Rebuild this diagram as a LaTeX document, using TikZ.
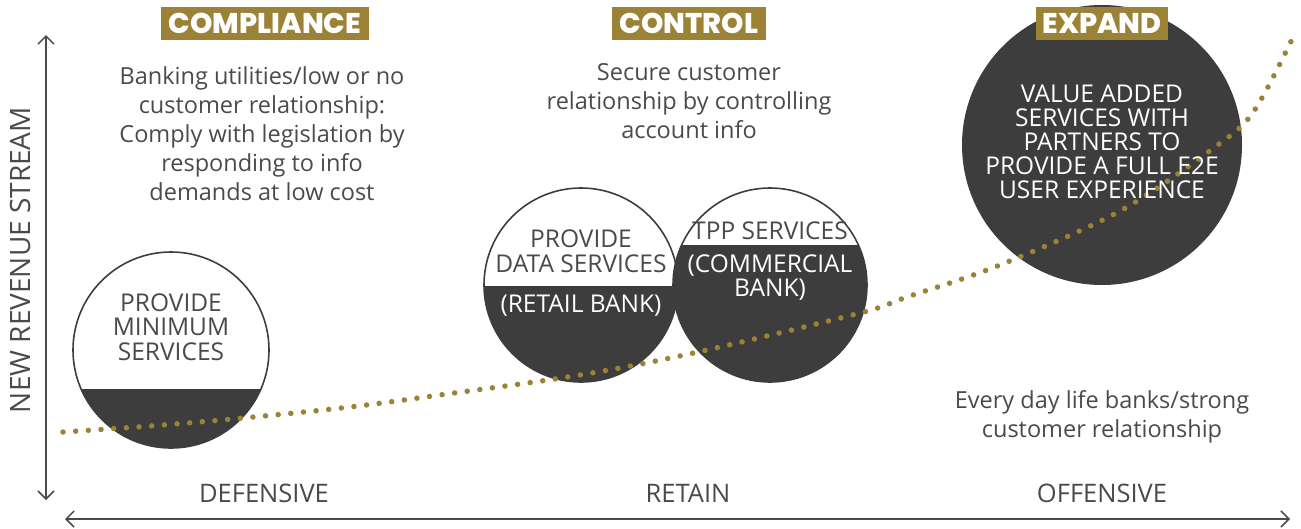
\documentclass[tikz,border=0pt]{standalone}
\usepackage{fontspec}
\setmainfont{Open Sans}
\IfFontExistsTF{Poppins ExtraBold}{\newfontfamily\titlefont{Poppins ExtraBold}\newcommand\tagwt{}}{\newfontfamily\titlefont{Poppins}\newcommand\tagwt{\bfseries}}
\usetikzlibrary{arrows.meta}
\definecolor{gold}{HTML}{9C8236}
\definecolor{darkfill}{HTML}{3D3D3D}
\definecolor{txt}{HTML}{4A4A4A}
\begin{document}
\begin{tikzpicture}[x=1pt,y=-1pt,
  tag/.style={fill=gold,text=white,font=\titlefont\tagwt\fontsize{28.5}{28}\selectfont,minimum height=33pt,inner sep=0pt,anchor=center},
  body/.style={text=txt,align=center,font=\fontsize{23.5}{29}\selectfont,inner sep=0pt},
  axlabel/.style={text=txt,align=center,font=\fontsize{25.5}{26}\selectfont,inner sep=0pt},
  ctext/.style={text=txt,align=center,font=\fontsize{24.5}{24.5}\selectfont,inner sep=0pt},
  wtext/.style={text=white,align=center,font=\fontsize{24.5}{24}\selectfont,inner sep=0pt},
  ring/.style={circle,draw=darkfill,line width=1.6pt,inner sep=0pt},
  axis/.style={draw=txt,line width=1.5pt,{Straight Barb[length=8pt,width=16pt]}-{Straight Barb[length=8pt,width=16pt]}},
  dots/.style={draw=gold,line width=5.5pt,line cap=round,dash pattern=on 0pt off 12.7pt}
]
\useasboundingbox (0,0) rectangle (1301,528);
% axes
\coordinate (ytop) at (46,35);
\coordinate (ybot) at (46,500);
\coordinate (xl) at (65,519);
\coordinate (xr) at (1290,519);
\draw[axis] (ybot) -- (ytop);
\draw[axis] (xl) -- (xr);
\node[axlabel,rotate=90,font=\fontsize{28}{28}\selectfont] (ylab) at (20,260) {NEW REVENUE STREAM};
\node[axlabel] (def) at (264,493) {DEFENSIVE};
\node[axlabel] (ret) at (688,493) {RETAIN};
\node[axlabel] (off) at (1102,493) {OFFENSIVE};
% circle 1
\node[circle,minimum size=196pt,inner sep=0pt] (c1) at (171,350) {};
\begin{scope}
  \clip (c1.center) circle[radius=98pt];
  \fill[darkfill] (60,389) rectangle (290,460);
  \fill[white] (60,386.5) rectangle (290,389);
\end{scope}
\node[ring,minimum size=196pt] at (c1.center) {};
\node[ctext] (c1t) at (171,327) {PROVIDE\\MINIMUM\\SERVICES};
% circle 2
\node[circle,minimum size=194pt,inner sep=0pt] (c2) at (581,285) {};
\begin{scope}
  \clip (c2.center) circle[radius=97pt];
  \fill[darkfill] (470,286) rectangle (690,390);
\end{scope}
\node[ring,minimum size=194pt] at (c2.center) {};
% circle 3
\node[circle,minimum size=194pt,inner sep=0pt] (c3) at (770,285) {};
\begin{scope}
  \clip (c3.center) circle[radius=97pt];
  \fill[darkfill] (660,245) rectangle (880,390);
\end{scope}
\node[ring,minimum size=194pt] at (c3.center) {};
\node[ctext] (c2t) at (581,251) {PROVIDE\\DATA SERVICES};
\node[wtext] (c2b) at (581,306) {(RETAIL BANK)};
\node[ctext] (c3t) at (770,231) {TPP SERVICES};
\node[wtext] (c3b) at (770,278) {(COMMERCIAL\\BANK)};
% circle 4
\node[circle,fill=darkfill,minimum size=280pt,inner sep=0pt] (c4) at (1102,145) {};
% curve
\draw[dots] plot[smooth,tension=0.55] coordinates {(63,432) (150,426) (243,418) (350,407) (447,394) (580,375) (698,352) (860,313) (907,297) (1000,265) (1120,211) (1215,147) (1254,111) (1295,33)};
\node[wtext] (c4t) at (1102,142) {VALUE ADDED\\SERVICES WITH\\PARTNERS TO\\PROVIDE A FULL E2E\\USER EXPERIENCE};
% tags
\node[tag,minimum width=208pt] (t1) at (265,23.5) {COMPLIANCE};
\node[tag,minimum width=154pt] (t2) at (689,23.5) {CONTROL};
\node[tag,minimum width=132pt] (t3) at (1102,23.5) {EXPAND};
% descriptions
\node[body] (d1) at (262,134) {Banking utilities/low or no\\customer relationship:\\Comply with legislation by\\responding to info\\demands at low cost};
\node[body] (d2) at (689,101) {Secure customer\\relationship by controlling\\account info};
\node[body] (d3) at (1102,417) {Every day life banks/strong\\customer relationship};
\end{tikzpicture}
\end{document}
